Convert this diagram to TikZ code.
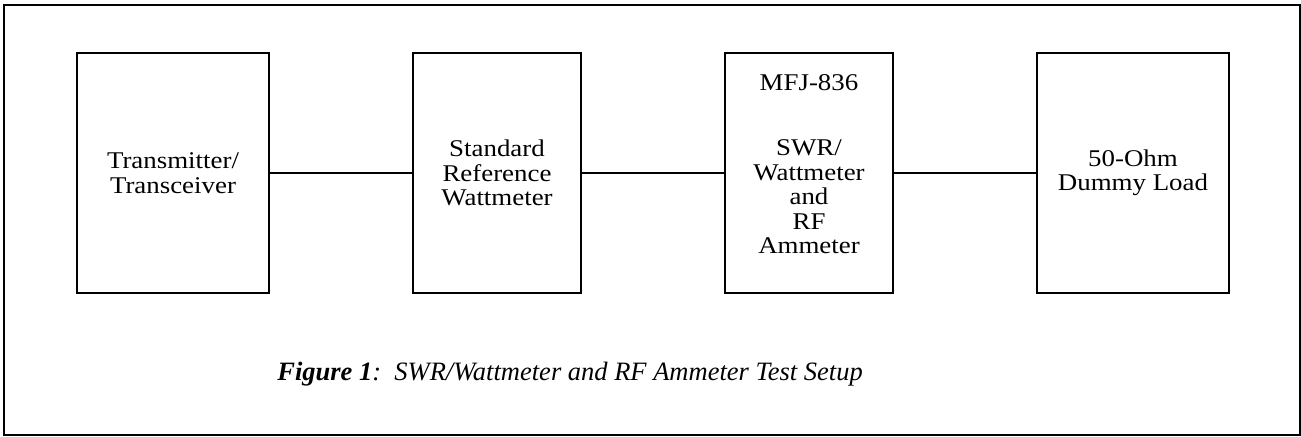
\documentclass[tikz,border=0pt]{standalone}
\usepackage{fontspec}
\setmainfont{Liberation Serif}
\newfontfamily\boxfont[FakeStretch=1.12]{Liberation Serif}
\usetikzlibrary{calc}
\tikzset{
	unitbox/.style={draw, line width=1pt, inner sep=0pt, outer sep=0pt, minimum height=120pt, align=center, font=\boxfont\fontsize{12}{12.25}\selectfont},
	boxtext/.style={inner sep=0pt, align=center, font=\boxfont\fontsize{12}{12.25}\selectfont},
	wire/.style={line width=1pt}
}

\begin{document}
\begin{tikzpicture}[x=0.5pt, y=-0.5pt]
		%%%%% START %%%%%
		
		\useasboundingbox (0, 0) rectangle (1301, 436);
		\draw[line width=1pt] (4, 5) rectangle (1300, 435);
		
		\node[unitbox, minimum width=96pt] (tx) at (173, 173) {Transmitter/\\Transceiver};
		\node[unitbox, minimum width=84pt] (refmeter) at (497, 173) {Standard\\Reference\\Wattmeter};
		\node[unitbox, minimum width=84pt] (mfj) at (809, 173) {};
		\node[unitbox, minimum width=96pt] (load) at (1133, 173) {50-Ohm\\Dummy Load};
		
		\node[boxtext, anchor=base] (mfjname) at (809, 90) {MFJ-836};
		\node[boxtext] (mfjtext) at (809, 197) {SWR/\\Wattmeter\\and\\RF\\Ammeter};
		
		\draw[wire] (tx.east) -- (refmeter.west);
		\draw[wire] (refmeter.east) -- (mfj.west);
		\draw[wire] (mfj.east) -- (load.west);
		
		\node[anchor=base west, inner sep=0pt] (caption) at (277, 380) {\fontsize{13.25}{16}\selectfont\itshape\textbf{Figure 1}:\ \ SWR/Wattmeter and RF Ammeter Test Setup};
		
		%%%%% END %%%%%
	\end{tikzpicture}
\end{document}
